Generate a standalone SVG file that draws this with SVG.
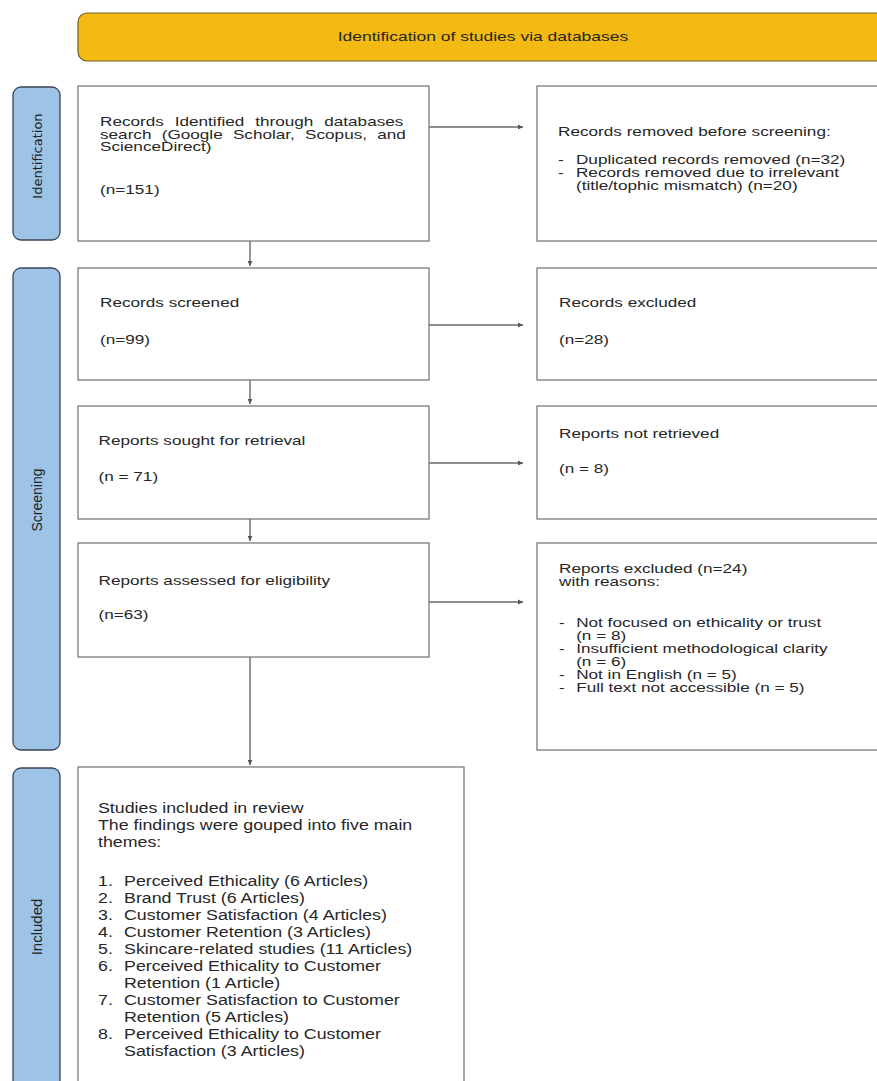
<svg xmlns="http://www.w3.org/2000/svg" width="877" height="1081" viewBox="0 0 877 1081">
<defs>
<marker id="ah" markerWidth="6" markerHeight="6" refX="5" refY="3" orient="auto" markerUnits="userSpaceOnUse"><path d="M0,0.6 L5,3 L0,5.4 z" fill="#555"/></marker>
<style>
.box{fill:#fff;stroke:#6f6f6f;stroke-width:1.2}
.lab{fill:#9DC3E6;stroke:#3a4656;stroke-width:1.3}
.t{font-family:"Liberation Sans",Arial,sans-serif;font-size:13px;fill:#262626}
.t5{font-family:"Liberation Sans",Arial,sans-serif;font-size:14px;fill:#262626}
.lt{font-family:"DejaVu Sans",sans-serif;font-size:13px;fill:#222}
.lt2{font-family:"Liberation Sans",Arial,sans-serif;font-size:14px;fill:#222}
.conn{stroke:#6a6a6a;stroke-width:1.4;fill:none}
</style>
</defs>
<rect width="877" height="1081" fill="#fff"/>

<g id="banner">
<rect x="78" y="13" width="830" height="48" rx="9" fill="#F2BA12" stroke="#6e5f26" stroke-width="1.2"/>
<g transform="translate(483,0) scale(1.4,1)"><text class="t" x="0" y="41" text-anchor="middle" style="font-size:12.5px">Identification of studies via databases</text></g>
</g>

<g id="label-identification">
<rect class="lab" x="13" y="87" width="47" height="153" rx="8"/>
<text class="lt" transform="translate(37,156) rotate(-90)" text-anchor="middle" dy="5">Identification</text>
</g>
<g id="label-screening">
<rect class="lab" x="13" y="268" width="47" height="482" rx="8"/>
<text class="lt2" transform="translate(37,500) rotate(-90)" text-anchor="middle" dy="5">Screening</text>
</g>
<g id="label-included">
<rect class="lab" x="13" y="768" width="47" height="330" rx="8"/>
<text class="lt2" transform="translate(37,927) rotate(-90)" text-anchor="middle" dy="5" style="font-size:15px">Included</text>
</g>

<g id="connectors">
<line class="conn" x1="250" y1="241" x2="250" y2="266" marker-end="url(#ah)"/>
<line class="conn" x1="250" y1="380" x2="250" y2="404" marker-end="url(#ah)"/>
<line class="conn" x1="250" y1="519" x2="250" y2="541" marker-end="url(#ah)"/>
<line class="conn" x1="250" y1="657" x2="250" y2="765" marker-end="url(#ah)"/>
<line class="conn" x1="429" y1="127" x2="523" y2="127" marker-end="url(#ah)"/>
<line class="conn" x1="429" y1="325" x2="523" y2="325" marker-end="url(#ah)"/>
<line class="conn" x1="429" y1="463" x2="523" y2="463" marker-end="url(#ah)"/>
<line class="conn" x1="429" y1="602" x2="523" y2="602" marker-end="url(#ah)"/>
</g>

<g id="records-identified">
<rect class="box" x="78" y="86" width="351" height="155"/>
<g transform="translate(100,0) scale(1.32,1)">
<text class="t" x="0" y="126.5" word-spacing="4.6">Records Identified through databases</text>
<text class="t" x="0" y="139" word-spacing="4.1">search (Google Scholar, Scopus, and</text>
<text class="t" x="0" y="151.5">ScienceDirect)</text>
<text class="t" x="0" y="194">(n=151)</text>
</g>
</g>

<g id="records-removed">
<rect class="box" x="537" y="86" width="360" height="155"/>
<g transform="translate(558,0) scale(1.32,1)">
<text class="t" x="0" y="136">Records removed before screening:</text>
<text class="t" x="0" y="164">-</text><text class="t" x="13.6" y="164">Duplicated records removed (n=32)</text>
<text class="t" x="0" y="177">-</text><text class="t" x="13.6" y="177">Records removed due to irrelevant</text>
<text class="t" x="13.6" y="190">(title/tophic mismatch) (n=20)</text>
</g>
</g>

<g id="records-screened">
<rect class="box" x="78" y="268" width="351" height="112"/>
<g transform="translate(100,0) scale(1.32,1)">
<text class="t" x="0" y="307.5">Records screened</text>
<text class="t" x="0" y="344.5">(n=99)</text>
</g>
</g>

<g id="records-excluded">
<rect class="box" x="537" y="268" width="360" height="112"/>
<g transform="translate(559,0) scale(1.32,1)">
<text class="t" x="0" y="307.5">Records excluded</text>
<text class="t" x="0" y="344.5">(n=28)</text>
</g>
</g>

<g id="reports-sought">
<rect class="box" x="78" y="406" width="351" height="113"/>
<g transform="translate(98.5,0) scale(1.32,1)">
<text class="t" x="0" y="445.5">Reports sought for retrieval</text>
<text class="t" x="0" y="481.5">(n = 71)</text>
</g>
</g>

<g id="reports-not-retrieved">
<rect class="box" x="537" y="406" width="360" height="113"/>
<g transform="translate(559,0) scale(1.32,1)">
<text class="t" x="0" y="438.5">Reports not retrieved</text>
<text class="t" x="0" y="473.5">(n = 8)</text>
</g>
</g>

<g id="reports-assessed">
<rect class="box" x="78" y="543" width="351" height="114"/>
<g transform="translate(98.5,0) scale(1.32,1)">
<text class="t" x="0" y="585">Reports assessed for eligibility</text>
<text class="t" x="0" y="619">(n=63)</text>
</g>
</g>

<g id="reports-excluded">
<rect class="box" x="537" y="543" width="360" height="207"/>
<g transform="translate(559,0) scale(1.32,1)">
<text class="t" x="0" y="573">Reports excluded (n=24)</text>
<text class="t" x="0" y="586">with reasons:</text>
<text class="t" x="0" y="627">-</text><text class="t" x="13" y="627">Not focused on ethicality or trust</text>
<text class="t" x="13" y="640">(n = 8)</text>
<text class="t" x="0" y="653">-</text><text class="t" x="13" y="653">Insufficient methodological clarity</text>
<text class="t" x="13" y="666">(n = 6)</text>
<text class="t" x="0" y="679">-</text><text class="t" x="13" y="679">Not in English (n = 5)</text>
<text class="t" x="0" y="692">-</text><text class="t" x="13" y="692">Full text not accessible (n = 5)</text>
</g>
</g>

<g id="studies-included">
<rect class="box" x="78" y="767" width="386" height="330"/>
<g transform="translate(98,0) scale(1.27,1)">
<text class="t5" x="0" y="813.5">Studies included in review</text>
<text class="t5" x="0" y="830.5">The findings were gouped into five main</text>
<text class="t5" x="0" y="847">themes:</text>
<text class="t5" x="0" y="885.7">1.</text><text class="t5" x="20.5" y="885.7">Perceived Ethicality (6 Articles)</text>
<text class="t5" x="0" y="902.7">2.</text><text class="t5" x="20.5" y="902.7">Brand Trust (6 Articles)</text>
<text class="t5" x="0" y="919.7">3.</text><text class="t5" x="20.5" y="919.7">Customer Satisfaction (4 Articles)</text>
<text class="t5" x="0" y="936.7">4.</text><text class="t5" x="20.5" y="936.7">Customer Retention (3 Articles)</text>
<text class="t5" x="0" y="953.7">5.</text><text class="t5" x="20.5" y="953.7">Skincare-related studies (11 Articles)</text>
<text class="t5" x="0" y="970.7">6.</text><text class="t5" x="20.5" y="970.7">Perceived Ethicality to Customer</text>
<text class="t5" x="20.5" y="987.7">Retention (1 Article)</text>
<text class="t5" x="0" y="1004.7">7.</text><text class="t5" x="20.5" y="1004.7">Customer Satisfaction to Customer</text>
<text class="t5" x="20.5" y="1021.7">Retention (5 Articles)</text>
<text class="t5" x="0" y="1038.7">8.</text><text class="t5" x="20.5" y="1038.7">Perceived Ethicality to Customer</text>
<text class="t5" x="20.5" y="1055.7">Satisfaction (3 Articles)</text>
</g>
</g>
</svg>
